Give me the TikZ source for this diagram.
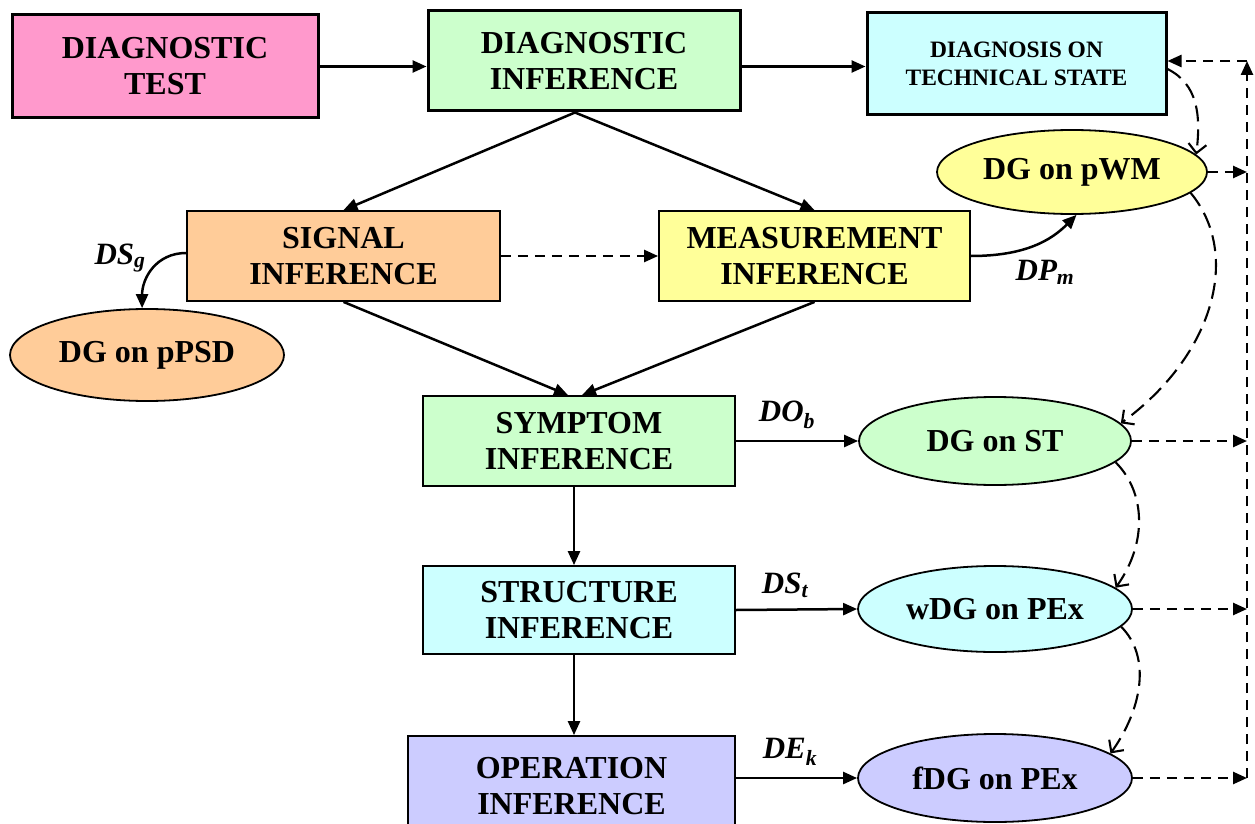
\documentclass[tikz,border=0pt]{standalone}
\usepackage{fontspec}
\setmainfont{Liberation Serif}
\usetikzlibrary{shapes.geometric,arrows.meta}
\definecolor{cpink}{HTML}{FF99CC}
\definecolor{cgreen}{HTML}{CCFFCC}
\definecolor{ccyan}{HTML}{CCFFFF}
\definecolor{corange}{HTML}{FFCC99}
\definecolor{cyellow}{HTML}{FFFF99}
\definecolor{clav}{HTML}{CCCCFF}
\tikzset{
  boxbase/.style={rectangle, draw=black, inner sep=0pt, align=center,
    font=\bfseries\fontsize{32}{36}\selectfont},
  bigbox/.style={boxbase, line width=3pt},
  smallbox/.style={boxbase, line width=1.8pt},
  oval/.style={ellipse, draw=black, line width=1.8pt, inner sep=0pt,
    font=\bfseries\fontsize{32}{36}\selectfont},
  lbl/.style={font=\bfseries\itshape\fontsize{31}{34}\selectfont, inner sep=0pt},
  solidarrow/.style={line width=2.5pt, -{Triangle[length=14pt,width=12pt]}},
  dasharrow/.style={line width=2.5pt, dash pattern=on 10pt off 7pt, -{Triangle[length=14pt,width=12pt]}},
  curvedash/.style={line width=2.1pt, dash pattern=on 16pt off 8pt, -{Straight Barb[length=9pt,width=18pt,line width=2.1pt]}}
}
\begin{document}
\begin{tikzpicture}[x=1pt,y=-1pt]
\useasboundingbox (0,0) rectangle (1255,824);
% boxes
\node[bigbox, fill=cpink, minimum width=306pt, minimum height=103pt] (test) at (165,66.5) {DIAGNOSTIC\\TEST};
\node[bigbox, fill=cgreen, minimum width=312pt, minimum height=100pt] (dinf) at (584,61) {DIAGNOSTIC\\INFERENCE};
\node[bigbox, fill=ccyan, minimum width=299pt, minimum height=102pt,
  font=\bfseries\fontsize{23.5}{28.5}\selectfont] (diag) at (1016.5,64) {DIAGNOSIS ON\\TECHNICAL STATE};
\node[smallbox, fill=corange, minimum width=313pt, minimum height=90pt] (sig) at (343.5,256) {SIGNAL\\INFERENCE};
\node[smallbox, fill=cyellow, minimum width=311pt, minimum height=90pt] (meas) at (814.5,256) {MEASUREMENT\\INFERENCE};
\node[smallbox, fill=cgreen, minimum width=312pt, minimum height=90pt] (symp) at (579,441) {SYMPTOM\\INFERENCE};
\node[smallbox, fill=ccyan, minimum width=312pt, minimum height=88pt] (struc) at (579,610) {STRUCTURE\\INFERENCE};
\node[smallbox, fill=clav, minimum width=327pt, minimum height=100pt] (oper) at (571.5,786) {OPERATION\\INFERENCE};
% ellipses
\node[oval, fill=cyellow, minimum width=270pt, minimum height=84pt] (pwm) at (1072,172) {DG on pWM};
\node[oval, fill=corange, minimum width=274pt, minimum height=92pt] (ppsd) at (147,355) {DG on pPSD};
\node[oval, fill=cgreen, minimum width=272pt, minimum height=88pt] (st) at (995,441) {DG on ST};
\node[oval, fill=ccyan, minimum width=274pt, minimum height=86pt] (wdg) at (995,609) {wDG on PEx};
\node[oval, fill=clav, minimum width=274pt, minimum height=88pt] (fdg) at (995,778) {fDG on PEx};
% labels
\node[lbl] (lds) at (120,258) {DS\textsubscript{g}};
\node[lbl] (ldp) at (1045,272) {DP\textsubscript{m}};
\node[lbl] (ldo) at (787,415) {DO\textsubscript{b}};
\node[lbl] (ldst) at (785,585) {DS\textsubscript{t}};
\node[lbl] (lde) at (790,752) {DE\textsubscript{k}};
% rail
\coordinate (railtop) at (1247,61);
\coordinate (railbot) at (1247,778);
% solid arrows
\draw[solidarrow] (test.east) -- (test.east -| dinf.west);
\draw[solidarrow] (test.east -| dinf.east) -- (test.east -| diag.west);
\draw[solidarrow] ([xshift=-9pt]dinf.south) -- (sig.north);
\draw[solidarrow] ([xshift=-9pt]dinf.south) -- (meas.north);
\draw[dasharrow] (sig.east) -- (meas.west);
\draw[solidarrow] (sig.south) -- ([xshift=-11pt]symp.north);
\draw[solidarrow] (meas.south) -- ([xshift=3pt]symp.north);
\draw[solidarrow] ([yshift=3pt]sig.west) .. controls +(-30,0) and +(0,-30) .. (ppsd.96);
\draw[solidarrow] (meas.east) .. controls +(55,0) and +(-25,25) .. (pwm.-84);
\draw[solidarrow] (symp.east) -- (st.west);
\draw[solidarrow] (struc.east) -- (wdg.west);
\draw[solidarrow] (oper.east |- fdg.west) -- (fdg.west);
\draw[solidarrow] ([xshift=-5pt]symp.south) -- ([xshift=-5pt]struc.north);
\draw[solidarrow] ([xshift=-5pt]struc.south) -- ([xshift=-5pt]struc.south |- oper.north);
% rail dashed
\draw[dasharrow] (railbot) -- (railtop);
\draw[dasharrow] (railtop) -- (railtop -| diag.east);
\draw[dasharrow] (pwm.east) -- (pwm.east -| railtop);
\draw[dasharrow] (st.east) -- (st.east -| railtop);
\draw[dasharrow] (wdg.east) -- (wdg.east -| railtop);
\draw[dasharrow] (fdg.east) -- (fdg.east -| railtop);
% curved dashed feedback
\draw[curvedash] ([yshift=-5pt]diag.east) .. controls +(30,15) and +(5,-40) .. (pwm.8);
\draw[curvedash] (pwm.-10) .. controls +(50,60) and +(95,-70) .. (st.8);
\draw[curvedash] (st.-10) .. controls +(30,30) and +(32,-45) .. (wdg.10);
\draw[curvedash] (wdg.-8) .. controls +(30,30) and +(32,-45) .. (fdg.12);
\end{tikzpicture}
\end{document}
